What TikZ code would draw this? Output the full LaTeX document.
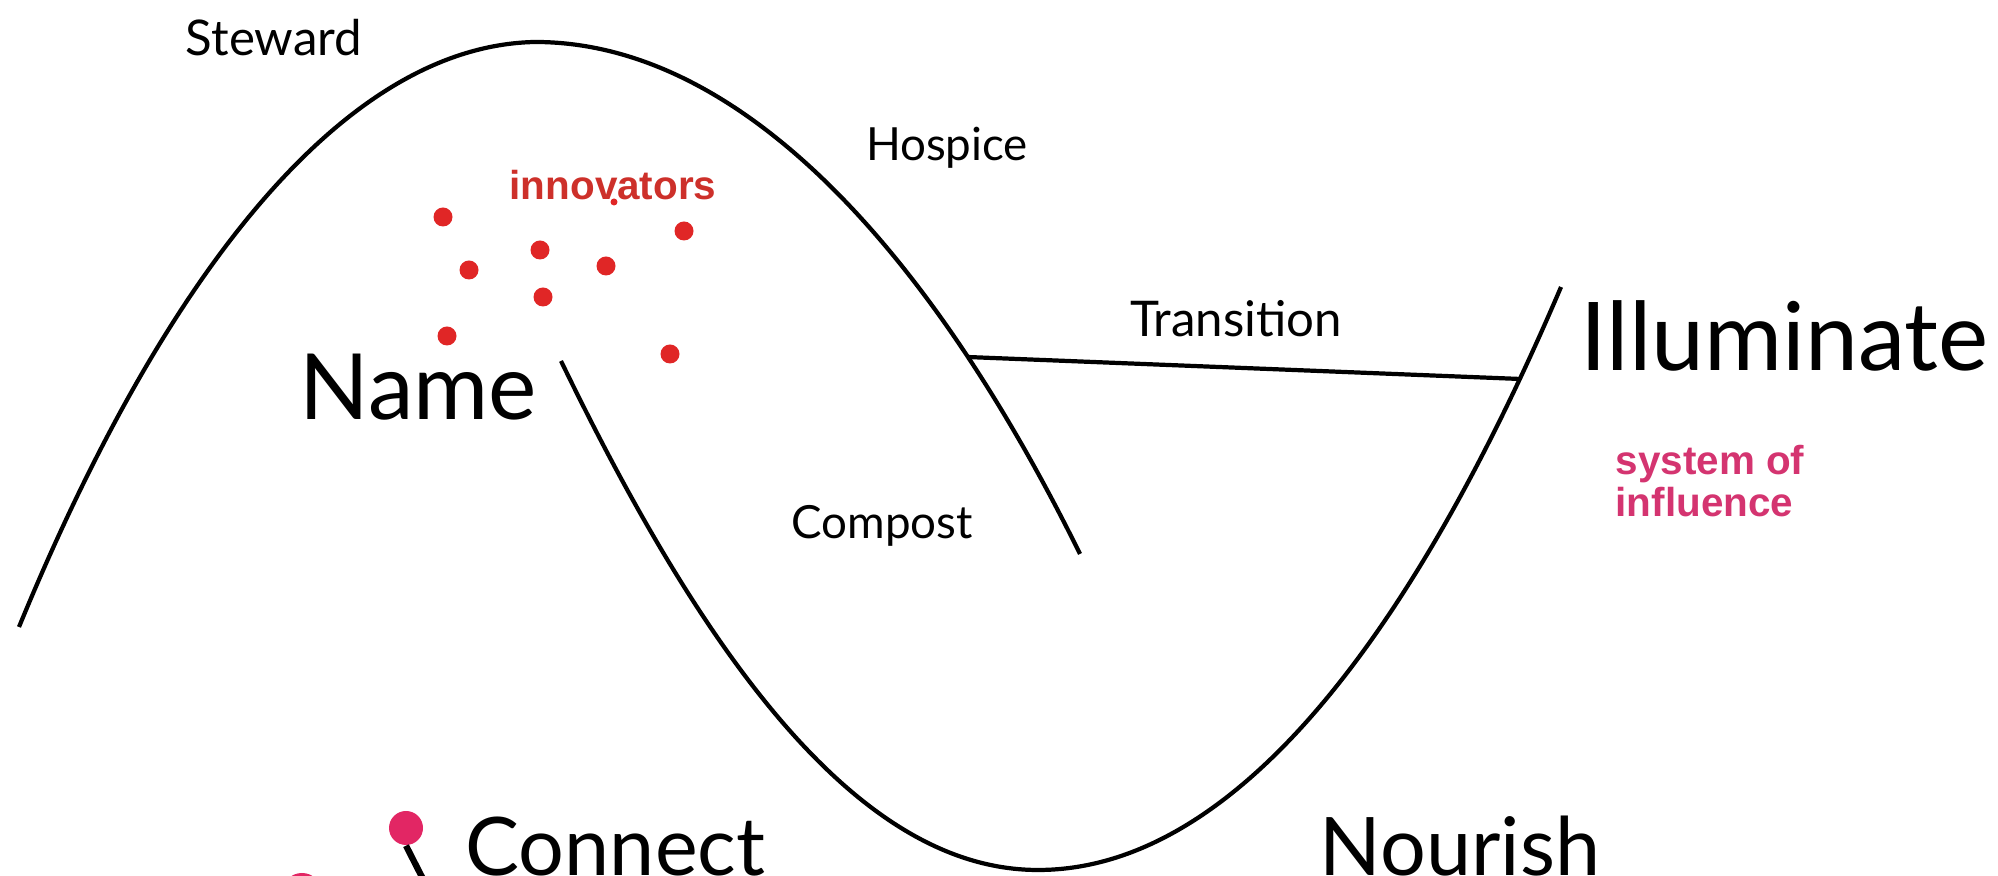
\documentclass[tikz,border=0pt]{standalone}
\usepackage{fontspec}
\setmainfont{Lato}
\newfontfamily\notefont{Liberation Sans}
\definecolor{dotred}{RGB}{224,38,38}
\definecolor{notered}{RGB}{205,48,42}
\definecolor{notepink}{RGB}{212,52,112}
\definecolor{pinpink}{RGB}{226,38,100}

\begin{document}
\begin{tikzpicture}[
    curve/.style={line width=1.2pt},
    phase/.style={font=\fontsize{13}{15}\selectfont, inner sep=0},
    bigword/.style={font=\fontsize{26}{30}\selectfont, inner sep=0, anchor=base west},
    note/.style={font=\notefont\bfseries\fontsize{11.5}{12}\selectfont, inner sep=0}]
  \useasboundingbox (0,0) rectangle (19.98,8.76);
  \clip (0,0) rectangle (19.98,8.76);
  % the big arch and the second wave
  \draw[curve] (0.19,2.49) .. controls (1.55,5.80) and (3.35,8.30) .. (5.35,8.34)
      .. controls (7.40,8.34) and (9.30,6.26) .. (10.80,3.22) coordinate[pos=0.765] (trl);
  \draw[curve] (5.61,5.15) .. controls (7.13,2.01) and (8.66,0.06) .. (10.38,0.06)
      .. controls (12.23,0.06) and (14.01,2.14) .. (15.61,5.89) coordinate[pos=0.915] (trr);
  \draw[curve] (trl) -- (trr);
  % labels
  \node[phase, font=\fontsize{14}{16}\selectfont] (steward) at (2.74,8.38) {Steward};
  \node[phase] (hospice) at (9.47,7.28) {Hospice};
  \node[phase, font=\fontsize{14}{16}\selectfont] (transition) at (12.36,5.57) {Transition};
  \node[phase] (compost) at (8.82,3.50) {Compost};
  \node[bigword] (name) at (2.99,4.56) {Name};
  \node[bigword, font=\fontsize{27}{30}\selectfont] (illuminate) at (15.80,5.05) {Illuminate};
  \node[bigword, font=\fontsize{23}{27}\selectfont] (connect) at (4.65,0.0) {Connect};
  \node[bigword, font=\fontsize{23}{27}\selectfont] (nourish) at (13.19,0.0) {Nourish};
  % innovators
  \node[note, text=notered] (innov) at (6.13,6.91) {innovators};
  \foreach \x/\y in {4.43/6.59, 6.84/6.45, 5.40/6.26, 4.69/6.06, 6.06/6.10, 5.43/5.79, 4.47/5.40, 6.70/5.22}
    \fill[dotred] (\x,\y) circle (0.095);
  \fill[dotred] (6.14,6.74) circle (0.035);
  \node[note, text=notepink, align=left, anchor=west] (influence) at (16.15,3.95) {system of\\influence};
  % pins
  \node[circle, fill=pinpink, inner sep=0, minimum size=0.34cm] (pin) at (4.06,0.48) {};
  \coordinate (pinfoot) at (4.24,-0.05);
  \draw[line width=1.8pt] (pin.south) -- (pinfoot);
  \fill[pinpink] (3.02,-0.17) circle (0.2);
\end{tikzpicture}
\end{document}
